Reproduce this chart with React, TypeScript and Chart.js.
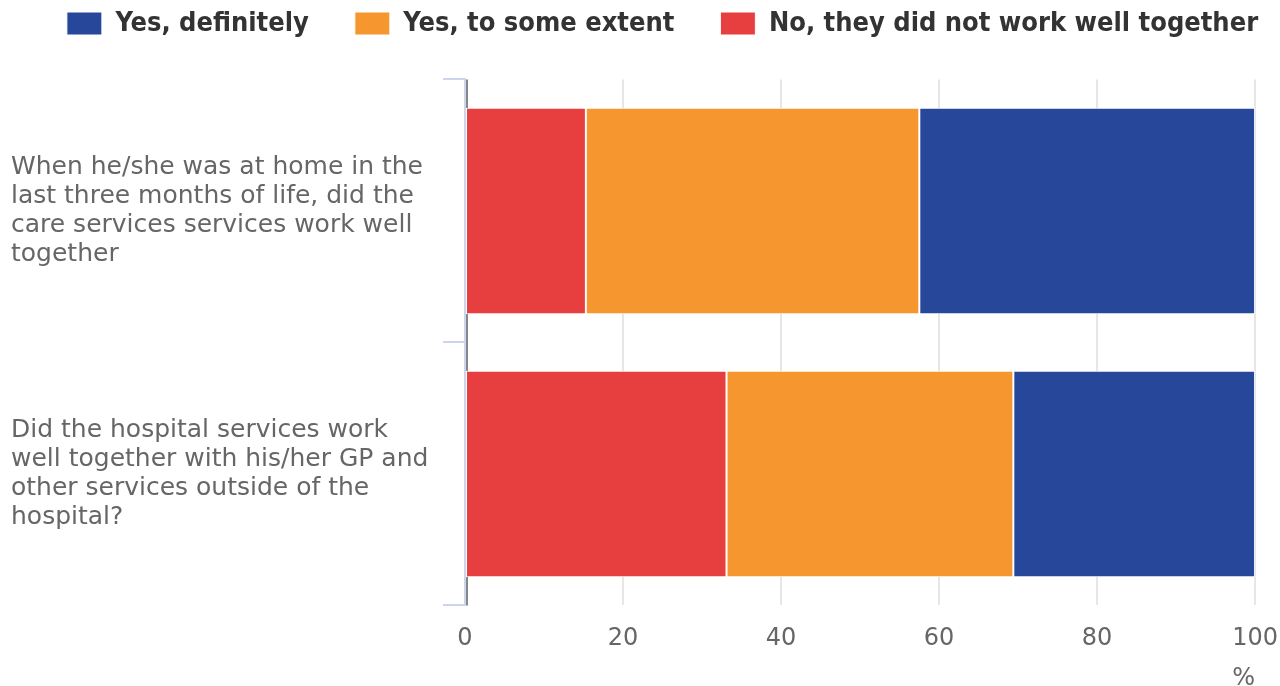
import React, { useEffect, useRef } from "react";
import { Chart, registerables } from "chart.js";

Chart.register(...registerables);

const categories: string[][] = [
  ["When he/she was at home in the", "last three months of life, did the", "care services services work well", "together"],
  ["Did the hospital services work", "well together with his/her GP and", "other services outside of the", "hospital?"],
];
const seriesNames = ["No, they did not work well together", "Yes, to some extent", "Yes, definitely"];
const noValues = [15.3, 33.1];
const someValues = [42.2, 36.3];
const definitelyValues = [42.5, 30.6];
const xTicks = [0, 20, 40, 60, 80, 100];
const colors = ["#E73E3F", "#F5962F", "#26479A"];

const zeroLine = {
  id: "zeroLine",
  beforeDatasetsDraw(chart: any) {
    const { ctx, chartArea, scales } = chart;
    const x = scales.x.getPixelForValue(0) + 2;
    ctx.save();
    ctx.strokeStyle = "#888888";
    ctx.lineWidth = 2;
    ctx.beginPath();
    ctx.moveTo(x, chartArea.top);
    ctx.lineTo(x, chartArea.bottom);
    ctx.stroke();
    ctx.restore();
  },
};

export default function App() {
  const ref = useRef<HTMLCanvasElement>(null);
  useEffect(() => {
    if (!ref.current) return;
    const chart = new Chart(ref.current, {
      type: "bar",
      data: {
        labels: categories as any,
        datasets: [noValues, someValues, definitelyValues].map((d, i) => ({
          label: seriesNames[i],
          data: d,
          backgroundColor: colors[i],
          borderColor: "#ffffff",
          borderWidth: 1,
          borderSkipped: false,
          categoryPercentage: 1,
          barPercentage: 0.785,
        })),
      },
      options: {
        indexAxis: "y",
        animation: false,
        responsive: true,
        maintainAspectRatio: false,
        layout: { padding: { left: 11, right: -34, top: -36, bottom: -7 } },
        plugins: {
          legend: {
            position: "top",
            reverse: true,
            weight: 3000,
            labels: {
              boxWidth: 35,
              boxHeight: 23,
              padding: 46,
              color: "#333333",
              font: { family: "DejaVu Sans Condensed, DejaVu Sans", size: 27, weight: "bold" },
            },
          },
          title: {
            display: true,
            text: "",
            position: "top",
            padding: { top: 14, bottom: 16 },
            font: { size: 2 },
          },
          tooltip: { enabled: false },
        },
        scales: {
          x: {
            stacked: true,
            min: 0,
            max: 100,
            afterBuildTicks: (s: any) => {
              s.ticks = xTicks.map((v) => ({ value: v }));
            },
            grid: { color: "#e6e6e6", lineWidth: 2, drawTicks: true, tickLength: 17, tickColor: "rgba(0,0,0,0)" },
            border: { display: false },
            ticks: {
              color: "#666666",
              padding: 2,
              font: { family: "DejaVu Sans", size: 24, lineHeight: 1.2 },
            },
            title: {
              display: true,
              text: "%",
              align: "end",
              color: "#666666",
              padding: { top: 9, bottom: 0 },
              font: { family: "DejaVu Sans", size: 24, lineHeight: 1.2 },
            },
          },
          y: {
            stacked: true,
            afterFit: (s: any) => {
              s.width = 454;
            },
            grid: { color: "#ccd6eb", lineWidth: 2, drawOnChartArea: false, tickLength: 22 },
            border: { display: true, color: "#ccd6eb", width: 2 },
            ticks: {
              color: "#666666",
              crossAlign: "far",
              font: { family: "DejaVu Sans", size: 25, lineHeight: 1.16 },
            },
          },
        },
      },
      plugins: [zeroLine],
    });
    return () => chart.destroy();
  }, []);
  return (
    <div style={{ position: "fixed", left: 0, top: 0, width: 1280, height: 686 }}>
      <canvas ref={ref} />
    </div>
  );
}
